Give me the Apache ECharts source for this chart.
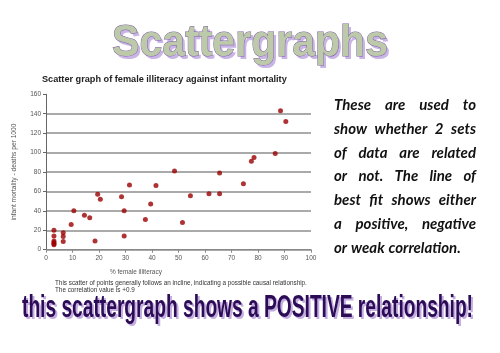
<!DOCTYPE html>
<html>
<head>
<meta charset="utf-8">
<script src="https://cdn.jsdelivr.net/npm/echarts@6/dist/echarts.min.js"></script>
<style>
  html, body { margin: 0; padding: 0; background: #fff; }
  #main { width: 500px; height: 353px; }
</style>
</head>
<body>
<div id="main"></div>
<script>
// % female illiteracy  vs  infant mortality (deaths per 1000)
const illiteracy = [3, 3, 3, 3, 3, 3, 6.5, 6.5, 6.5, 9.5, 10.5, 14.5, 16.5, 18.5, 19.5, 20.5,
  28.5, 29.5, 29.5, 31.5, 37.5, 39.5, 41.5, 48.5, 51.5, 54.5, 61.5, 65.5, 65.5,
  74.5, 77.5, 78.5, 86.5, 88.5, 90.5]
const mortality = [20, 14, 9, 7.5, 6, 5, 17.5, 13.5, 8.5, 26, 40, 35.5, 33, 9, 57, 52,
  54.5, 40, 14, 66.5, 31, 47, 66, 81, 28, 55.5, 57.5, 57.5, 79,
  68, 91, 95, 99, 143, 132]
const xAxisMax = 100, xStep = 10
const yAxisMax = 160, yStep = 20

const paragraph = [
  'These are used to',
  'show whether 2 sets',
  'of data are related',
  'or not. The line of',
  'best fit shows either',
  'a positive, negative',
  'or weak correlation.'
]
const footnote = [
  'This scatter of points generally follows an incline, indicating a possible causal relationship.',
  'The correlation value is +0.9'
]

const points = illiteracy.map((x, i) => [x, mortality[i]])

// measuring helper so texts fit the widths seen in the picture
const ctx = document.createElement('canvas').getContext('2d')
function textW(str, font) {
  ctx.font = font
  return ctx.measureText(str).width
}
function fitSize(str, pre, family, width) {
  return 10 * width / textW(str, pre + ' 10px ' + family)
}

const sans = '"Liberation Sans", Arial, sans-serif'
const elements = []

// big heading
const headFont = 'bold 45px ' + sans
const headScale = 276 / textW('Scattergraphs', headFont)
elements.push({
  type: 'text', x: 114.5, y: 46.5, scaleX: headScale,
  style: { text: 'Scattergraphs', font: headFont, fill: '#c9b4e6', verticalAlign: 'middle', textVerticalAlign: 'middle' }
})
elements.push({
  type: 'text', x: 112, y: 44, scaleX: headScale,
  style: {
    text: 'Scattergraphs', font: headFont,
    fill: '#bccaa9',
    stroke: '#7e5ea3', lineWidth: 1,
    verticalAlign: 'middle', textVerticalAlign: 'middle'
  }
})

// chart title
const titleText = 'Scatter graph of female illiteracy against infant mortality'
const titleSize = fitSize(titleText, 'bold', sans, 245)
elements.push({
  type: 'text', x: 42, y: 79.5,
  style: { text: titleText, font: 'bold ' + titleSize + 'px ' + sans, fill: '#222', verticalAlign: 'middle', textVerticalAlign: 'middle' }
})

// x axis name
const xName = '% female illiteracy'
const xNameSize = fitSize(xName, '', sans, 52)
elements.push({
  type: 'text', x: 110, y: 272.7,
  style: { text: xName, font: xNameSize + 'px ' + sans, fill: '#555', verticalAlign: 'middle', textVerticalAlign: 'middle' }
})

// footnote under the chart
const noteSize = fitSize(footnote[0], '', sans, 252)
footnote.forEach((t, i) => {
  elements.push({
    type: 'text', x: 55, y: 283.7 + i * 6.8,
    style: { text: t, font: noteSize + 'px ' + sans, fill: '#333', verticalAlign: 'middle', textVerticalAlign: 'middle' }
  })
})

// justified paragraph on the right
const pFont = 'italic bold 15px Lato, "Open Sans", sans-serif'
const paraLeft = 334, paraRight = 476
paragraph.forEach((line, i) => {
  const words = line.split(' ')
  const ws = words.map(w => textW(w, pFont))
  const sum = ws.reduce((a, b) => a + b, 0)
  const last = i === paragraph.length - 1
  const gap = last ? textW(' ', pFont) * 1.2 : (paraRight - paraLeft - sum) / (words.length - 1)
  let x = paraLeft
  words.forEach((w, k) => {
    elements.push({
      type: 'text', x: x, y: 105.5 + i * 23.7,
      style: { text: w, font: pFont, fill: '#111', verticalAlign: 'middle', textVerticalAlign: 'middle' }
    })
    x += ws[k] + gap
  })
})

// bottom slogan
const bottomText = 'this scattergraph shows a POSITIVE relationship!'
const bottomFont = 'bold 31px ' + sans
const bottomScale = 451 / textW(bottomText, bottomFont)
elements.push({
  type: 'text', x: 24, y: 310.5, scaleX: bottomScale,
  style: { text: bottomText, font: bottomFont, fill: '#c4aee0', verticalAlign: 'middle', textVerticalAlign: 'middle' }
})
elements.push({
  type: 'text', x: 22, y: 308, scaleX: bottomScale,
  style: { text: bottomText, font: bottomFont, fill: '#2c0b57', verticalAlign: 'middle', textVerticalAlign: 'middle' }
})

const yName = 'infant mortality - deaths per 1000'
const yNameSize = fitSize(yName, '', sans, 97)

const myChart = echarts.init(document.getElementById('main'), null, { renderer: 'canvas' })
myChart.setOption({
  animation: false,
  backgroundColor: '#fff',
  grid: { left: 46, top: 94.3, width: 265, height: 155.4 },
  xAxis: {
    type: 'value',
    min: 0, max: xAxisMax, interval: xStep,
    axisLine: { show: true, lineStyle: { color: '#888', width: 1 } },
    axisTick: { show: true, length: 3, lineStyle: { color: '#888' } },
    axisLabel: { color: '#555', fontSize: 6.5, fontFamily: sans, margin: 5 },
    splitLine: { show: false }
  },
  yAxis: {
    type: 'value',
    min: 0, max: yAxisMax, interval: yStep,
    name: yName,
    nameLocation: 'middle',
    nameGap: 28,
    nameTextStyle: { color: '#555', fontSize: yNameSize, fontFamily: sans },
    axisLine: { show: true, lineStyle: { color: '#666', width: 1 } },
    axisTick: { show: true, length: 3, lineStyle: { color: '#666' } },
    axisLabel: { color: '#555', fontSize: 6.5, fontFamily: sans, margin: 5 },
    splitLine: { show: true, showMaxLine: false, lineStyle: { color: '#8e8e8e', width: 1.5 } }
  },
  series: [{
    type: 'scatter',
    data: points,
    symbolSize: 5,
    itemStyle: { color: '#9c0000' }
  }],
  graphic: { elements: elements }
})
window.addEventListener('resize', () => {
  if (myChart) myChart.resize()
})
</script>
</body>
</html>
